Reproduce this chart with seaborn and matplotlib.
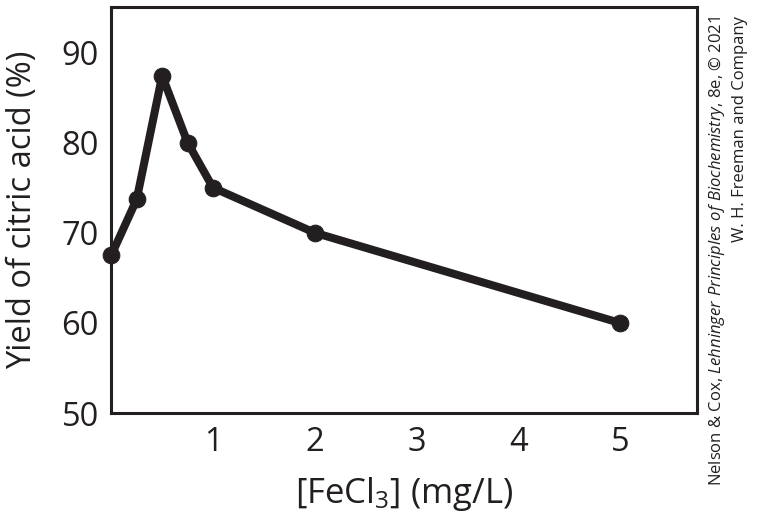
import matplotlib
matplotlib.use('Agg')
import matplotlib.pyplot as plt
import seaborn as sns
import pandas as pd

# data
fecl3_conc = [0, 0.25, 0.5, 0.75, 1, 2, 5]          # mg/L
citric_yield = [67.5, 73.7, 87.4, 80.0, 75.0, 70.0, 60.0]   # percent
x_ticks = [1, 2, 3, 4, 5]
y_ticks = [50, 60, 70, 80, 90]

ink = '#231f20'

sns.set_style('white')
plt.rcParams['font.family'] = ['Open Sans', 'DejaVu Sans']
plt.rcParams['mathtext.fontset'] = 'custom'
plt.rcParams['mathtext.rm'] = 'Open Sans'
plt.rcParams['mathtext.it'] = 'Open Sans:italic'
plt.rcParams['mathtext.default'] = 'regular'

df = pd.DataFrame({'conc': fecl3_conc, 'yield': citric_yield})

fig = plt.figure(figsize=(7.57, 5.19), dpi=100)
ax = fig.add_axes([0.147, 0.204, 0.774, 0.782])

sns.lineplot(data=df, x='conc', y='yield', ax=ax, color=ink, linewidth=5.8,
             marker='o', markersize=12, markeredgecolor=ink, markerfacecolor=ink,
             clip_on=False, zorder=5)

ax.set_xlim(0, 5.76)
ax.set_ylim(50, 95)
ax.set_xticks(x_ticks)
ax.set_yticks(y_ticks)
ax.tick_params(direction='in', length=12, width=1.8, color=ink, labelcolor=ink,
               labelsize=23.5, pad=9)
for s in ax.spines.values():
    s.set_linewidth(2.2)
    s.set_color(ink)

ax.set_xlabel('[FeCl$_3$] (mg/L)', fontsize=25, color=ink, labelpad=12)
ax.set_ylabel('Yield of citric acid (%)', fontsize=23.5, color=ink, labelpad=16)

# credit line
fig.text(717 / 757, 1 - 16 / 519,
         r'Nelson & Cox, $\it{Lehninger\ Principles\ of\ Biochemistry}$, 8e, © 2021',
         rotation=90, ha='center', va='top', fontsize=12, color=ink)
fig.text(740 / 757, 1 - 16 / 519, 'W. H. Freeman and Company',
         rotation=90, ha='center', va='top', fontsize=12, color=ink)

fig.savefig('out.png', dpi=100)
